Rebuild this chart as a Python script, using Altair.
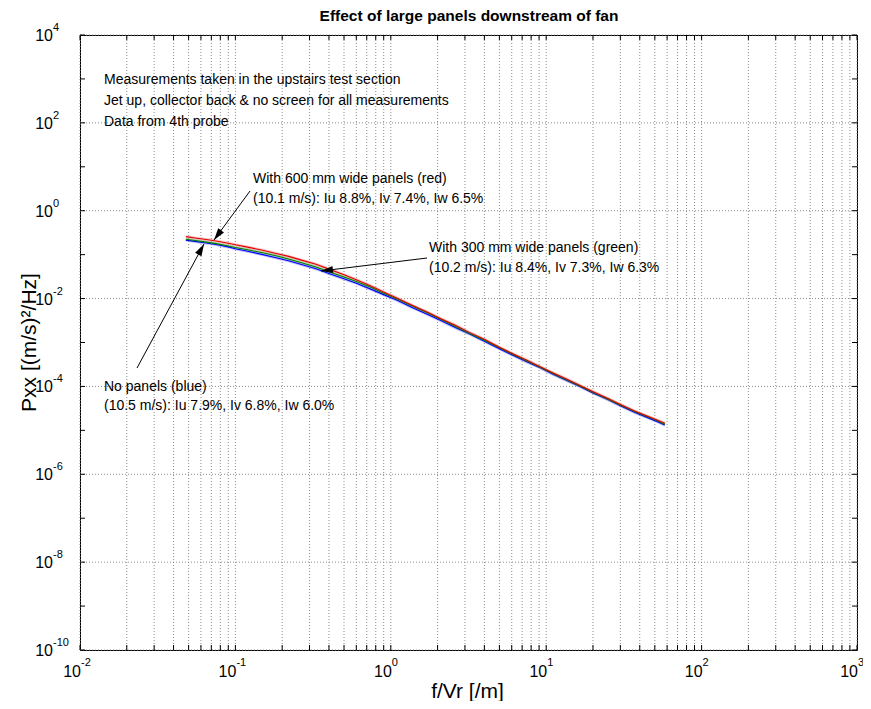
import math
import altair as alt
import pandas as pd

# ---------------- data ----------------
freq = [0.048, 0.055, 0.065, 0.075, 0.09, 0.1, 0.12, 0.15, 0.18, 0.22, 0.27, 0.33,
        0.4, 0.5, 0.6, 0.75, 0.9, 1.1, 1.35, 1.7, 2.1, 2.6, 3.2, 4, 5, 6.2, 7.5,
        9, 11, 13.5, 16.5, 20, 25, 30, 37, 45, 52, 58]

pxx_red = [0.257, 0.240, 0.221, 0.204, 0.182, 0.168, 0.148, 0.126, 0.108, 0.0912,
           0.0741, 0.0603, 0.0468, 0.0347, 0.0269, 0.0191, 0.0141, 0.0102, 0.00724,
           0.00500, 0.00347, 0.00248, 0.00170, 0.00118, 7.76e-4, 5.37e-4, 3.95e-4,
           2.88e-4, 2.04e-4, 1.48e-4, 1.05e-4, 7.59e-5, 5.30e-5, 3.89e-5, 2.75e-5,
           2.09e-5, 1.70e-5, 1.45e-5]

pxx_green = [0.224, 0.209, 0.193, 0.178, 0.158, 0.145, 0.129, 0.110, 0.0955, 0.0794,
             0.0646, 0.0525, 0.0407, 0.0309, 0.0245, 0.0178, 0.0132, 0.00977, 0.00692,
             0.00479, 0.00338, 0.00234, 0.00162, 0.00112, 7.59e-4, 5.25e-4, 3.80e-4,
             2.82e-4, 2.00e-4, 1.41e-4, 1.02e-4, 7.41e-5, 5.13e-5, 3.80e-5, 2.69e-5,
             2.04e-5, 1.66e-5, 1.38e-5]

pxx_blue = [0.214, 0.200, 0.184, 0.170, 0.150, 0.136, 0.120, 0.100, 0.0861, 0.0724,
            0.0589, 0.0479, 0.0372, 0.0282, 0.0224, 0.0162, 0.0123, 0.00912, 0.00646,
            0.00447, 0.00316, 0.00219, 0.00158, 0.00107, 7.24e-4, 5.01e-4, 3.63e-4,
            2.75e-4, 1.91e-4, 1.38e-4, 1.00e-4, 7.08e-5, 5.01e-5, 3.63e-5, 2.57e-5,
            1.95e-5, 1.58e-5, 1.32e-5]

x_label_exps = [-2, -1, 0, 1, 2, 3]
y_label_exps = [-10, -8, -6, -4, -2, 0, 2, 4]
y_tick_exps = list(range(-10, 5))

title_text = "Effect of large panels downstream of fan"
x_title = "f/Vr [/m]"
y_title = "Pxx [(m/s)\u00b2/Hz]"

note_lines = [
    # text, page-x, page-baseline-y
    ("Measurements taken in the upstairs test section", 104, 84),
    ("Jet up, collector back & no screen for all measurements", 104, 105),
    ("Data from 4th probe", 104, 126),
    ("With 600 mm wide panels (red)", 253, 183),
    ("(10.1 m/s): Iu 8.8%, Iv 7.4%, Iw 6.5%", 253, 203),
    ("With 300 mm wide panels (green)", 429, 252),
    ("(10.2 m/s): Iu 8.4%, Iv 7.3%, Iw 6.3%", 429, 272),
    ("No panels (blue)", 104, 391),
    ("(10.5 m/s): Iu 7.9%, Iv 6.8%, Iw 6.0%", 104, 410),
]
arrows = [
    # start page (x, y), tip page (x, y)
    ((250, 191), (214, 240)),
    ((427, 258), (321, 271)),
    ((137, 368), (204, 244)),
]

# ---------------- layout ----------------
W, H = 777, 615
X0, Y0 = 80, 35          # page position of plot area
XDOM = [1e-2, 1e3]
YDOM = [1e-10, 1e4]
FONT = "Liberation Sans"
GRID_COLOR = "#8c8c8c"


def px_to_f(px):
    return 10 ** (math.log10(XDOM[0]) + (px - X0) / (W / 5))


def py_to_p(py):
    return 10 ** (math.log10(YDOM[1]) - (py - Y0) / (H / 14))


xs = alt.Scale(type="log", domain=XDOM, nice=False)
ys = alt.Scale(type="log", domain=YDOM, nice=False)


def X(field):
    return alt.X(field, scale=xs, axis=None)


def Y(field):
    return alt.Y(field, scale=ys, axis=None)


x_grid = [m * 10.0 ** e for e in range(-2, 3) for m in range(1, 10)] + [1000.0]
y_grid = [10.0 ** e for e in y_label_exps]

layers = []

# dotted grid
vg = pd.DataFrame({"f": x_grid, "p1": YDOM[0], "p2": YDOM[1]})
layers.append(alt.Chart(vg).mark_rule(color=GRID_COLOR, strokeWidth=1, strokeDash=[1, 2]).encode(
    x=X("f:Q"), y=Y("p1:Q"), y2="p2:Q"))
hg = pd.DataFrame({"p": y_grid, "f1": XDOM[0], "f2": XDOM[1]})
layers.append(alt.Chart(hg).mark_rule(color=GRID_COLOR, strokeWidth=1, strokeDash=[1, 2]).encode(
    y=Y("p:Q"), x=X("f1:Q"), x2="f2:Q"))

series = [("blue", pxx_blue, "#0000ff", "#8080ff"),
          ("green", pxx_green, "#008000", "#80c080"),
          ("red", pxx_red, "#e00000", "#f09090")]

for name, vals, col, light in series:
    df = pd.DataFrame({"f": freq, "p": vals})
    layers.append(alt.Chart(df).mark_line(color=light, strokeWidth=3, opacity=0.5).encode(
        x=X("f:Q"), y=Y("p:Q")))
for name, vals, col, light in series:
    df = pd.DataFrame({"f": freq, "p": vals})
    layers.append(alt.Chart(df).mark_line(color=col, strokeWidth=1.1).encode(
        x=X("f:Q"), y=Y("p:Q")))

# inward tick marks on all four sides
tb = pd.DataFrame({"f": x_grid, "p1": YDOM[0], "p2": py_to_p(Y0 + H - 5)})
tt = pd.DataFrame({"f": x_grid, "p1": YDOM[1], "p2": py_to_p(Y0 + 5)})
for d in (tb, tt):
    layers.append(alt.Chart(d).mark_rule(color="black", strokeWidth=1).encode(
        x=X("f:Q"), y=Y("p1:Q"), y2="p2:Q"))
yv = [10.0 ** e for e in y_tick_exps]
tl = pd.DataFrame({"p": yv, "f1": XDOM[0], "f2": px_to_f(X0 + 5)})
tr = pd.DataFrame({"p": yv, "f1": XDOM[1], "f2": px_to_f(X0 + W - 5)})
for d in (tl, tr):
    layers.append(alt.Chart(d).mark_rule(color="black", strokeWidth=1).encode(
        y=Y("p:Q"), x=X("f1:Q"), x2="f2:Q"))

# tick labels 10^n
xl = pd.DataFrame({"f": [10.0 ** e for e in x_label_exps],
                   "base": ["10"] * len(x_label_exps),
                   "exp": [str(e) for e in x_label_exps]})
layers.append(alt.Chart(xl).mark_text(font=FONT, fontSize=16, align="right", baseline="middle", dx=1).encode(
    x=X("f:Q"), y=alt.value(H + 22), text="base:N"))
layers.append(alt.Chart(xl).mark_text(font=FONT, fontSize=11, align="left", baseline="middle", dx=1).encode(
    x=X("f:Q"), y=alt.value(H + 13), text="exp:N"))

yl = pd.DataFrame({"p": [10.0 ** e for e in y_label_exps],
                   "base": ["10"] * len(y_label_exps),
                   "exp": [str(e) for e in y_label_exps]})
layers.append(alt.Chart(yl).mark_text(font=FONT, fontSize=16, align="right", baseline="middle", dy=1).encode(
    y=Y("p:Q"), x=alt.value(-27), text="base:N"))
layers.append(alt.Chart(yl).mark_text(font=FONT, fontSize=11, align="left", baseline="middle", dy=-7).encode(
    y=Y("p:Q"), x=alt.value(-27), text="exp:N"))

# titles
one = pd.DataFrame({"a": [0]})
layers.append(alt.Chart(one).mark_text(font=FONT, fontSize=15.5, fontWeight="bold", align="center",
                                       baseline="middle", text=title_text).encode(
    x=alt.value(W / 2 + 0.5), y=alt.value(-19)))
layers.append(alt.Chart(one).mark_text(font=FONT, fontSize=21, align="center",
                                       baseline="middle", text=x_title).encode(
    x=alt.value(W / 2 - 1), y=alt.value(H + 42)))
layers.append(alt.Chart(one).mark_text(font=FONT, fontSize=21, align="center", angle=270,
                                       baseline="middle", text=y_title).encode(
    x=alt.value(-50), y=alt.value(H / 2)))

# annotations
notes = pd.DataFrame({"t": [n[0] for n in note_lines],
                      "f": [px_to_f(n[1]) for n in note_lines],
                      "p": [py_to_p(n[2]) for n in note_lines]})
layers.append(alt.Chart(notes).mark_text(font=FONT, fontSize=14, align="left", baseline="alphabetic").encode(
    x=X("f:Q"), y=Y("p:Q"), text="t:N"))

arr = pd.DataFrame({
    "f1": [px_to_f(a[0][0]) for a in arrows], "p1": [py_to_p(a[0][1]) for a in arrows],
    "f2": [px_to_f(a[1][0]) for a in arrows], "p2": [py_to_p(a[1][1]) for a in arrows],
    "ang": [math.degrees(math.atan2(a[1][0] - a[0][0], -(a[1][1] - a[0][1]))) % 360 for a in arrows],
})
layers.append(alt.Chart(arr).mark_rule(color="black", strokeWidth=1).encode(
    x=X("f1:Q"), y=Y("p1:Q"), x2="f2:Q", y2="p2:Q"))
layers.append(alt.Chart(arr).mark_point(shape="M0,0L-0.6,2L0.6,2Z", size=144, filled=True,
                                        color="black", opacity=1, strokeWidth=0).encode(
    x=X("f2:Q"), y=Y("p2:Q"), angle=alt.Angle("ang:Q", scale=None)))

chart = alt.layer(*layers).properties(
    width=W, height=H,
    autosize=alt.AutoSizeParams(type="none"),
    padding={"left": 72, "top": 27, "right": 6, "bottom": 51},
    background="white",
).configure_view(stroke="black", strokeWidth=1)

chart.save("out.html", embed_options={"renderer": "svg", "actions": False})
